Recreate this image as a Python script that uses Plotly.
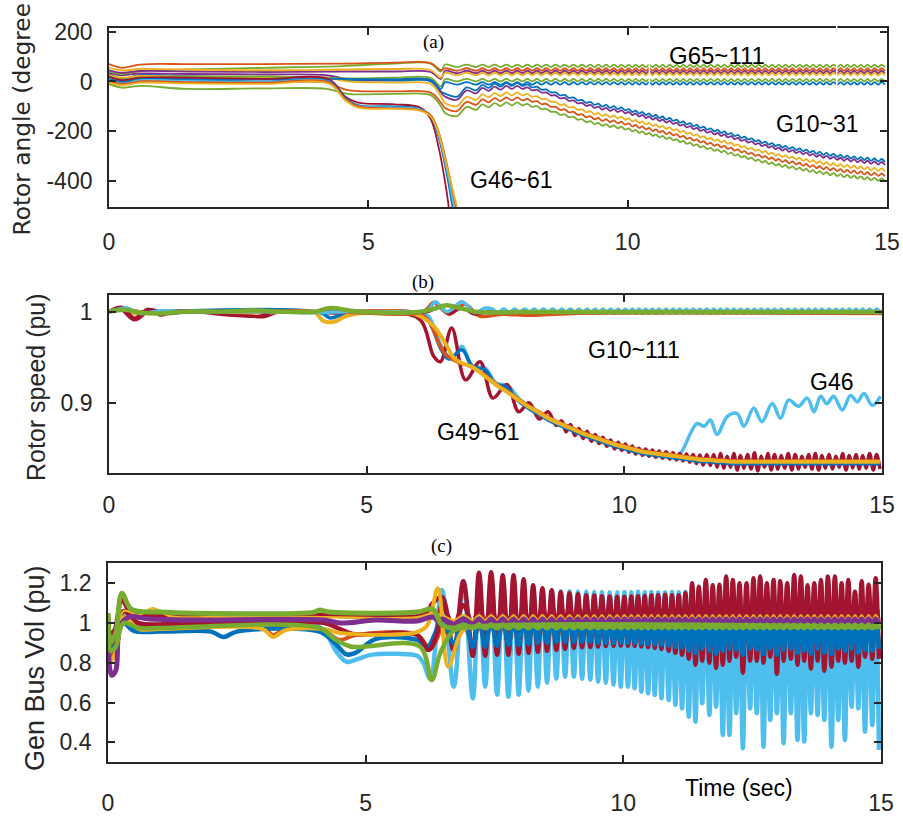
import plotly.graph_objects as go

# MATLAB default line colours
BLUE = "#0072BD"
ORANGE = "#D95319"
YELLOW = "#EDB120"
PURPLE = "#7E2F8E"
GREEN = "#77AC30"
CYAN = "#4DBEEE"
RED = "#A2142F"
AXIS_GREY = "#262626"

TIME_TICKS = [0, 5, 10, 15]
TIME_TICK_LABELS = ["0", "5", "10", "15"]

# Trough instants (s) of the fast swing that follows the second event;
# each cycle's peak lies halfway between consecutive troughs.
SWING_T0 = 6.25
TROUGH_T = [6.71, 7.08, 7.32, 7.55, 7.77, 7.97, 8.16, 8.34, 8.52, 8.70,
            8.87, 9.04, 9.20, 9.36, 9.51, 9.66, 9.81, 9.95, 10.09, 10.22,
            10.35, 10.48, 10.61, 10.74, 10.88, 11.01, 11.14, 11.27, 11.40, 11.53,
            11.67, 11.80, 11.93, 12.06, 12.19, 12.32, 12.46, 12.59, 12.72, 12.85,
            12.98, 13.11, 13.25, 13.38, 13.51, 13.64, 13.77, 13.90, 14.04, 14.17,
            14.30, 14.43, 14.56, 14.69, 14.83, 14.96]
PEAK_T = [(a + b) / 2 for a, b in zip([SWING_T0] + TROUGH_T[:-1], TROUGH_T)]

# ---------------- (a) rotor angle, degrees ----------------
ANGLE_TICKS = [-400, -200, 0, 200]

G65_KNOT_T = [0, 0.25, 0.6, 1.5, 3.0, 4.5, 5.5, 6.2, 6.4]
G65_COLORS = [GREEN, ORANGE, PURPLE, YELLOW, GREEN, BLUE]
G65_PRE = [
    [40, 30, 42, 48, 55, 62, 72, 72, 40],
    [70, 55, 68, 70, 70, 72, 76, 74, 45],
    [45, 35, 42, 40, 38, 40, 40, 38, 10],
    [55, 45, 50, 48, 45, 48, 50, 46, 15],
    [20, 8, 15, 18, 20, 12, 15, 14, -20],
    [10, 0, 12, 10, 8, 10, 8, 6, -30],
]
G65_LEVEL = [63, 48, 38, 30, 5, -8]
G65_SWING = 5

G1031_KNOT_T = [0, 0.25, 0.6, 1.5, 3.0, 4.2, 4.6, 5.5, 6.2, 6.4]
G1031_COLORS = [BLUE, PURPLE, YELLOW, ORANGE, GREEN]
G1031_PRE = [
    [30, 12, 25, 22, 15, 15, 5, 3, 0, -40],
    [35, 25, 32, 30, 28, 25, 10, 8, 5, -45],
    [25, 15, 22, 20, 18, 15, 0, -5, -10, -60],
    [5, -10, 0, -5, -5, -5, -35, -40, -45, -85],
    [-10, -25, -18, -30, -28, -30, -50, -50, -55, -100],
]
G1031_CENTRE = [-55, -30, -20, -15, -12, -12, -18, -27, -38, -50,
                -60, -70, -80, -88, -95, -100, -105, -110, -117, -123,
                -129, -135, -141, -147, -153, -160, -167, -174, -181, -188,
                -195, -201, -207, -214, -221, -228, -235, -242, -248, -254,
                -260, -265, -270, -275, -280, -285, -289, -293, -297, -301,
                -304, -307, -310, -313, -316, -318]
G1031_OFFSET = [0, -12, -38, -58, -78]
G1031_SWING = 6

G4661_KNOT_T = [0, 0.25, 0.6, 1.5, 3.0, 4.25, 4.55, 4.8, 5.5, 6.0, 6.2, 6.35, 6.5]
G4661_END_T = [6.57, 6.65, 6.68, 6.72, 6.75]
G4661_COLORS = [RED, BLUE, CYAN, ORANGE, YELLOW]
G4661_V = [
    [20, 5, 15, 15, 10, 8, -60, -85, -92, -105, -150, -260, -430, -540],
    [10, -5, 8, 5, 0, 0, -65, -95, -100, -110, -140, -220, -360, -540],
    [5, -8, 5, 2, -2, -3, -70, -98, -104, -112, -135, -210, -340, -540],
    [0, -10, 0, -3, -5, -5, -70, -100, -108, -115, -135, -200, -320, -540],
    [-5, -15, -5, -8, -10, -10, -75, -105, -110, -118, -140, -205, -330, -540],
]

# ---------------- (b) rotor speed, pu ----------------
SPEED_TICKS = [0.9, 1]
SPEED_TICK_LABELS = ["0.9", "1"]

# common slide of the G49~61 group, sampled at TROUGH_T
DECAY_CENTRE = [0.948, 0.938, 0.928, 0.918, 0.910, 0.902, 0.895, 0.889, 0.883, 0.878,
                0.874, 0.870, 0.866, 0.863, 0.860, 0.857, 0.854, 0.852, 0.850, 0.848,
                0.846, 0.845, 0.844, 0.843, 0.842, 0.841, 0.840, 0.839, 0.838, 0.837,
                0.837, 0.836, 0.836, 0.835, 0.835, 0.835, 0.835, 0.835, 0.835, 0.835,
                0.835, 0.835, 0.835, 0.835, 0.835, 0.835, 0.835, 0.835, 0.835, 0.835,
                0.835, 0.835, 0.835, 0.835, 0.835, 0.835]

YEL_B_T = [0, 0.2, 0.5, 1, 3, 4.0, 4.15, 4.35, 4.6, 5.0, 6.0, 6.3, 6.56]
YEL_B_V = [1.0, 1.004, 0.998, 1.0, 0.999, 0.999, 0.99, 0.9885, 0.995, 0.999, 0.996, 0.984, 0.962]

BLUE_B_T = [0, 0.3, 0.6, 1.0, 4.1, 4.3, 4.6, 6.0, 6.2, 6.45, 6.6, 6.85, 7.05, 7.3, 7.5, 7.7, 7.9]
BLUE_B_V = [1.0, 1.003, 0.998, 1.0, 0.999, 0.993, 0.998, 0.998, 0.99, 0.958, 0.948, 0.958,
            0.94, 0.936, 0.92, 0.918, 0.904]

ORA_B_T = [0, 0.3, 0.7, 1.5, 4.2, 6.0, 6.2, 6.5, 6.75, 7.0, 7.3]
ORA_B_V = [1.0, 1.002, 0.999, 1.0, 1.0, 0.998, 0.99, 0.955, 0.945, 0.94, 0.93]

RED_B_T = [0, 0.2, 0.5, 0.8, 1.1, 1.5, 2.2, 3.0, 3.3, 4.2, 4.6, 5.5, 6.04, 6.3, 6.43,
           6.65, 6.92, 7.2, 7.45, 7.72, 7.95, 8.15, 8.35, 8.52, 8.68]
RED_B_V = [1.0, 1.004, 0.991, 1.002, 0.998, 1.0, 1.0, 0.9945, 1.0, 0.999, 0.998, 0.999,
           0.991, 0.951, 0.945, 0.982, 0.925, 0.945, 0.905, 0.92, 0.89, 0.9, 0.882,
           0.89, 0.875]
RED_B_SWING = [0.006, 0.006, 0.0055, 0.0055, 0.005, 0.005, 0.005, 0.0045, 0.0045, 0.0045,
               0.004, 0.004, 0.004, 0.004, 0.004, 0.004, 0.004, 0.0045, 0.005, 0.0055,
               0.006, 0.007, 0.008, 0.006, 0.009, 0.007, 0.008, 0.010, 0.006, 0.009,
               0.008, 0.007, 0.009, 0.008, 0.006, 0.008, 0.009, 0.007, 0.008, 0.006,
               0.009, 0.007, 0.008, 0.007, 0.009, 0.008]

G46_T = [0, 0.35, 0.6, 1.0, 3.0, 4.2, 6.0, 6.2, 6.45, 6.65, 6.85, 7.05, 7.3, 7.5, 7.75,
         8.0, 8.5, 9.0, 9.5, 10.0, 10.5, 11.0, 11.1, 11.41, 11.55, 11.67, 11.80, 12.0,
         12.19, 12.32, 12.51, 12.67, 12.87, 13.03, 13.19, 13.38, 13.55, 13.68, 13.81,
         13.93, 14.06, 14.23, 14.39, 14.52, 14.65, 14.81, 14.97]
G46_V = [1.0, 1.003, 0.998, 1.0, 1.0, 0.999, 0.999, 0.995, 0.962, 0.948, 0.962, 0.94,
         0.938, 0.922, 0.918, 0.902, 0.884, 0.87, 0.861, 0.852, 0.846, 0.841, 0.845,
         0.877, 0.874, 0.881, 0.865, 0.885, 0.888, 0.874, 0.894, 0.879, 0.899, 0.883,
         0.903, 0.896, 0.905, 0.890, 0.907, 0.899, 0.907, 0.892, 0.908, 0.901, 0.910,
         0.897, 0.907]

CYAN_TOP_T = [0, 0.35, 0.6, 1.0, 1.5, 3, 4.2, 4.5, 5, 6.0, 6.2, 6.33, 6.56, 6.85, 7.1, 7.3]
CYAN_TOP_V = [1.0, 1.004, 0.998, 1.001, 1.0, 1.0, 0.999, 1.0, 1.0, 1.0, 1.002, 1.011,
              1.0, 1.011, 0.999, 1.004]
RED_TOP_T = [0, 0.25, 0.5, 0.75, 1.0, 1.3, 1.7, 2.9, 3.2, 4.2, 4.5, 6.2, 6.4, 6.6, 6.85, 7.1]
RED_TOP_V = [1.0, 1.005, 0.993, 1.003, 0.996, 1.001, 0.9995, 0.995, 1.0, 1.0, 1.001, 1.0,
             1.006, 0.998, 1.004, 0.997]
ORA_TOP_T = [0, 0.3, 0.7, 1.5, 4.2, 6.1, 6.3, 6.6, 6.9, 7.2, 7.6, 8.2, 9.0, 15]
ORA_TOP_V = [1.0, 1.002, 0.999, 1.0, 1.0, 1.0, 1.01, 0.997, 1.008, 0.995, 0.997, 0.996,
             0.998, 0.998]
GRN_B_T = [0, 0.3, 0.6, 1.0, 1.5, 2.2, 2.8, 3.3, 4.0, 4.3, 4.7, 5.2, 6.0, 6.3, 6.55,
           6.8, 7.1, 7.4, 8.0, 15]
GRN_B_V = [1.0, 1.002, 0.999, 0.998, 1.0, 1.0, 1.0015, 1.0, 1.0, 1.004, 1.001, 0.999,
           0.9995, 1.003, 1.007, 1.004, 1.0, 0.999, 0.9995, 0.9995]

# ---------------- (c) generator bus voltage, pu ----------------
VOLT_TICKS = [0.4, 0.6, 0.8, 1, 1.2]
VOLT_TICK_LABELS = ["0.4", "0.6", "0.8", "1", "1.2"]

CYAN_C_T = [0, 0.04, 0.12, 0.3, 0.55, 1.0, 2.0, 3.0, 4.0, 4.2, 4.45, 4.63, 4.85, 5.1,
            5.6, 6.0, 6.12, 6.25]
CYAN_C_V = [1.0, 0.93, 0.915, 1.05, 1.0, 0.99, 0.99, 0.99, 0.99, 0.96, 0.85, 0.805,
            0.82, 0.84, 0.845, 0.835, 0.8, 0.72]
CYAN_C_HI = [1.166, 1.21, 1.22, 1.215, 1.205, 1.195, 1.185, 1.175, 1.17, 1.165,
             1.16, 1.16, 1.158, 1.157, 1.156, 1.156, 1.155, 1.155, 1.156, 1.155,
             1.157, 1.155, 1.156, 1.154, 1.155, 1.156, 1.155, 1.157, 1.155, 1.154,
             1.156, 1.155, 1.155, 1.157, 1.154, 1.156, 1.155, 1.155, 1.156, 1.154,
             1.155, 1.157, 1.155, 1.156, 1.154, 1.155, 1.156, 1.155, 1.157, 1.155,
             1.154, 1.156, 1.155, 1.155, 1.156, 1.155]
CYAN_C_LO = [0.68, 0.62, 0.68, 0.64, 0.63, 0.64, 0.66, 0.68, 0.70, 0.72,
             0.73, 0.73, 0.72, 0.715, 0.705, 0.70, 0.69, 0.68, 0.68, 0.672,
             0.655, 0.647, 0.638, 0.622, 0.613, 0.588, 0.571, 0.529, 0.504, 0.596,
             0.538, 0.579, 0.437, 0.437, 0.546, 0.37, 0.571, 0.546, 0.378, 0.512,
             0.546, 0.395, 0.546, 0.412, 0.404, 0.546, 0.538, 0.512, 0.378, 0.512,
             0.412, 0.579, 0.571, 0.454, 0.487, 0.362]

RED_C_T = [0, 0.04, 0.12, 0.27, 0.45, 0.8, 1.5, 3, 4.2, 4.5, 5.5, 6.0, 6.2, 6.3]
RED_C_V = [1.04, 0.95, 0.96, 1.116, 1.05, 1.04, 1.04, 1.04, 1.04, 1.035, 1.035, 1.035,
           1.06, 1.1]
RED_C_HI = [1.13, 1.21, 1.253, 1.256, 1.24, 1.24, 1.22, 1.19, 1.175, 1.165,
            1.155, 1.15, 1.145, 1.14, 1.138, 1.135, 1.133, 1.132, 1.132, 1.133,
            1.135, 1.136, 1.138, 1.14, 1.142, 1.14, 1.14, 1.15, 1.2, 1.183,
            1.217, 1.19, 1.192, 1.234, 1.217, 1.2, 1.2, 1.225, 1.234, 1.2,
            1.217, 1.21, 1.2, 1.242, 1.234, 1.19, 1.2, 1.217, 1.234, 1.234,
            1.2, 1.217, 1.158, 1.21, 1.192, 1.225]
RED_C_LO = [0.86, 0.835, 0.835, 0.84, 0.84, 0.845, 0.85, 0.855, 0.86, 0.865,
            0.87, 0.875, 0.878, 0.88, 0.882, 0.884, 0.885, 0.886, 0.886, 0.885,
            0.883, 0.88, 0.875, 0.87, 0.86, 0.85, 0.84, 0.82, 0.79, 0.81,
            0.8, 0.774, 0.79, 0.81, 0.83, 0.75, 0.81, 0.81, 0.8, 0.83,
            0.745, 0.81, 0.82, 0.79, 0.81, 0.77, 0.81, 0.76, 0.78, 0.81,
            0.8, 0.81, 0.78, 0.83, 0.82, 0.82]

RED2_C_T = [0, 0.05, 0.15, 0.3, 0.6, 1.5, 3.0, 4.2, 4.5, 4.75, 5.2, 6.0, 6.22, 6.4]
RED2_C_V = [1.02, 0.9, 0.92, 1.06, 1.0, 1.0, 1.0, 1.0, 0.97, 0.945, 0.945, 0.94, 0.864, 0.96]
RED2_C_HI, RED2_C_LO = 1.09, 0.99

BLUE_C_T = [0, 0.04, 0.12, 0.3, 0.5, 1.0, 2.0, 2.24, 2.5, 4.1, 4.4, 4.63, 4.8, 5.2, 6.0,
            6.2, 6.35]
BLUE_C_V = [1.0, 0.88, 0.9, 1.0, 0.96, 0.957, 0.957, 0.93, 0.957, 0.957, 0.9, 0.842,
            0.85, 0.92, 0.915, 0.88, 0.95]
BLUE_C_HI = 1.03
BLUE_C_LO = [0.9, 0.88, 0.88, 0.885, 0.89, 0.89, 0.895, 0.9, 0.9, 0.905,
             0.905, 0.905, 0.905, 0.905, 0.9, 0.9, 0.9, 0.9, 0.9, 0.898,
             0.896, 0.894, 0.892, 0.89, 0.885, 0.88, 0.875, 0.86, 0.85, 0.87,
             0.86, 0.845, 0.86, 0.87, 0.865, 0.84, 0.87, 0.865, 0.845, 0.87,
             0.84, 0.865, 0.87, 0.85, 0.86, 0.845, 0.87, 0.85, 0.845, 0.87,
             0.86, 0.87, 0.85, 0.865, 0.86, 0.87]

ORA_C_T = [0, 0.05, 0.15, 0.3, 0.6, 1.0, 3.0, 3.2, 3.45, 4.1, 4.5, 4.8, 6.0, 6.25, 6.4]
ORA_C_V = [1.0, 0.84, 0.86, 1.03, 0.985, 0.98, 0.98, 0.94, 0.975, 0.975, 0.915, 0.94,
           0.94, 0.87, 0.93]
ORA_C_HI, ORA_C_LO = 1.0, 0.89

YEL2_C_T = [0, 0.05, 0.15, 0.3, 0.6, 1.0, 3.0, 3.2, 3.45, 4.2, 4.5, 6.0, 6.2, 6.4, 6.6,
            6.85, 7.1, 7.5, 15]
YEL2_C_V = [1.0, 0.81, 0.85, 1.03, 0.97, 0.97, 0.97, 0.93, 0.965, 0.97, 0.95, 0.955,
            0.99, 1.175, 0.78, 0.95, 1.0, 1.0, 1.0]

YEL_C_T = [0, 0.04, 0.12, 0.3, 0.6, 0.87, 1.2, 2.5, 4.2, 6.0, 6.3]
YEL_C_V = [1.04, 0.82, 0.83, 1.06, 1.04, 1.075, 1.035, 1.035, 1.03, 1.03, 1.05]
YEL_C_HI, YEL_C_LO = 1.04, 1.015

PUR_C_T = [0, 0.07, 0.15, 0.23, 0.4, 0.8, 1.5, 4.2, 4.5, 5.2, 6.0, 6.3, 6.45]
PUR_C_V = [1.015, 0.738, 0.76, 0.98, 1.03, 1.02, 1.015, 1.015, 1.0, 1.015, 1.01, 1.03, 1.0]
PUR_C_HI, PUR_C_LO = 1.02, 0.995

GRN2_C_T = [0, 0.05, 0.15, 0.3, 0.6, 1.0, 4.1, 4.4, 4.7, 6.05, 6.28, 6.45, 6.7, 7.0, 15]
GRN2_C_V = [0.985, 0.86, 0.88, 1.0, 0.975, 0.975, 0.975, 0.92, 0.882, 0.882, 0.713,
            0.85, 0.96, 0.98, 0.98]

GRN_C_T = [0, 0.05, 0.15, 0.27, 0.45, 1.0, 4.0, 4.1, 4.3, 6.0, 6.3]
GRN_C_V = [1.05, 0.9, 0.95, 1.15, 1.07, 1.055, 1.055, 1.065, 1.055, 1.055, 1.07]
GRN_C_HI, GRN_C_LO = 0.99, 0.975


def swing(pre_t, pre_v, hi, lo, start=0):
    """Append peak/trough pairs of the shared swing to a pre-event path."""
    ts, vs = list(pre_t), list(pre_v)
    for k, i in enumerate(range(start, len(TROUGH_T))):
        h = hi[k] if isinstance(hi, list) else hi
        l = lo[k] if isinstance(lo, list) else lo
        ts += [PEAK_T[i], TROUGH_T[i]]
        vs += [h, l]
    return ts, vs


fig = go.Figure()


def add_line(t, v, color, width, ax):
    fig.add_trace(go.Scatter(
        x=t, y=v, mode="lines",
        line=dict(color=color, width=width, shape="spline", smoothing=1.0),
        xaxis="x" + ax, yaxis="y" + ax, hoverinfo="skip", showlegend=False))


# (a)
for col, pre, off in zip(G1031_COLORS, G1031_PRE, G1031_OFFSET):
    hi = [c + off + G1031_SWING for c in G1031_CENTRE]
    lo = [c + off - G1031_SWING for c in G1031_CENTRE]
    t, v = swing(G1031_KNOT_T, pre, hi, lo)
    add_line(t, v, col, 1.8, "")
for col, pre, lev in zip(G65_COLORS, G65_PRE, G65_LEVEL):
    t, v = swing(G65_KNOT_T, pre, lev + G65_SWING, lev - G65_SWING)
    add_line(t, v, col, 1.8, "")
for col, vals, t_end in zip(G4661_COLORS, G4661_V, G4661_END_T):
    add_line(G4661_KNOT_T + [t_end], vals, col, 1.8, "")

# (b)
add_line(G46_T, G46_V, CYAN, 3.5, "2")
t, v = swing(RED_B_T, RED_B_V,
             [c + s for c, s in zip(DECAY_CENTRE[10:], RED_B_SWING)],
             [c - s for c, s in zip(DECAY_CENTRE[10:], RED_B_SWING)], start=10)
add_line(t, v, RED, 3.5, "2")
add_line(BLUE_B_T + TROUGH_T[6:], BLUE_B_V + [c - 0.002 for c in DECAY_CENTRE[6:]], BLUE, 3.5, "2")
add_line(ORA_B_T + TROUGH_T[3:], ORA_B_V + [c + 0.001 for c in DECAY_CENTRE[3:]], ORANGE, 3.5, "2")
add_line(YEL_B_T + TROUGH_T, YEL_B_V + DECAY_CENTRE, YELLOW, 4, "2")
add_line(ORA_TOP_T, ORA_TOP_V, ORANGE, 3.5, "2")
t, v = swing(RED_TOP_T, RED_TOP_V, 1.001, 0.9985, start=3)
add_line(t, v, RED, 3, "2")
t, v = swing(CYAN_TOP_T, CYAN_TOP_V, 1.003, 0.999, start=3)
add_line(t, v, CYAN, 3.5, "2")
add_line(GRN_B_T, GRN_B_V, GREEN, 4.5, "2")

# (c)
add_line(*swing(CYAN_C_T, CYAN_C_V, CYAN_C_HI, CYAN_C_LO), CYAN, 4.5, "3")
add_line(*swing(ORA_C_T, ORA_C_V, ORA_C_HI, ORA_C_LO), ORANGE, 4, "3")
add_line(*swing(RED_C_T, RED_C_V, RED_C_HI, RED_C_LO), RED, 4.5, "3")
add_line(*swing(BLUE_C_T, BLUE_C_V, BLUE_C_HI, BLUE_C_LO), BLUE, 4.5, "3")
add_line(*swing(RED2_C_T, RED2_C_V, RED2_C_HI, RED2_C_LO), RED, 4.5, "3")
add_line(YEL2_C_T, YEL2_C_V, YELLOW, 4, "3")
add_line(*swing(YEL_C_T, YEL_C_V, YEL_C_HI, YEL_C_LO), YELLOW, 2.2, "3")
add_line(*swing(PUR_C_T, PUR_C_V, PUR_C_HI, PUR_C_LO), PURPLE, 5, "3")
add_line(GRN2_C_T, GRN2_C_V, GREEN, 4.5, "3")
add_line(*swing(GRN_C_T, GRN_C_V, GRN_C_HI, GRN_C_LO), GREEN, 5, "3")

# Page geometry in window pixels, converted to paper fractions.
W, H = 903, 818


def px(x):
    return x / W


def py(y):
    return 1 - y / H


SANS = "Liberation Sans, Arial, sans-serif"
SERIF = "Liberation Serif, Times New Roman, serif"
TICK_FONT = dict(family=SANS, size=23, color=AXIS_GREY)


def frame(**kw):
    d = dict(showline=True, linecolor=AXIS_GREY, linewidth=1.8, mirror="ticks",
             ticks="inside", ticklen=7, tickwidth=1.8, tickcolor=AXIS_GREY,
             showgrid=False, zeroline=False, tickfont=TICK_FONT, fixedrange=True,
             automargin=False)
    d.update(kw)
    return d


def xframe(x0, x1, anchor, standoff):
    return frame(domain=[px(x0), px(x1)], anchor=anchor, range=[0, 15],
                 tickvals=TIME_TICKS, ticktext=TIME_TICK_LABELS,
                 ticklabelstandoff=standoff)


def yframe(top, bottom, anchor, rng, vals, text):
    return frame(domain=[py(bottom), py(top)], anchor=anchor, range=rng,
                 tickvals=vals, ticktext=text, ticklabelstandoff=10)


def note(text, x, y, size, family=SANS, angle=0, yanchor="middle", bg=None,
         color="black"):
    a = dict(text=text, x=px(x), y=py(y), xref="paper", yref="paper",
             showarrow=False, xanchor="center", yanchor=yanchor, textangle=angle,
             font=dict(family=family, size=size, color=color))
    if bg:
        a.update(bgcolor=bg, borderpad=1)
    return a


fig.update_layout(
    width=W, height=H,
    margin=dict(l=0, r=0, t=0, b=0, pad=0, autoexpand=False),
    paper_bgcolor="white", plot_bgcolor="white", showlegend=False,
    xaxis=xframe(109, 887, "y", 13),
    yaxis=yframe(28, 207, "x", [-505, 215], ANGLE_TICKS, [str(v) for v in ANGLE_TICKS]),
    xaxis2=xframe(109, 882, "y2", 10),
    yaxis2=yframe(295, 473, "x2", [0.8227, 1.0183], SPEED_TICKS, SPEED_TICK_LABELS),
    xaxis3=xframe(108, 881, "y3", 19),
    yaxis3=yframe(563, 762, "x3", [0.301, 1.302], VOLT_TICKS, VOLT_TICK_LABELS),
    annotations=[
        note("(a)", 433, 41.7, 19, SERIF),
        note("(b)", 423, 281.7, 19, SERIF),
        note("(c)", 441, 545.5, 19, SERIF),
        note("G65~111", 716.7, 55.8, 24),
        note("G10~31", 817.5, 124, 23, bg="white"),
        note("G46~61", 511, 180, 23),
        note("G10~111", 634, 350, 23),
        note("G46", 831.7, 382.5, 23),
        note("G49~61", 479, 431.7, 23),
        note("Time (sec)", 739, 787.5, 23),
        note("Rotor angle (degree", 21, 238, 23.3, "DejaVu Sans, sans-serif",
             angle=-90, yanchor="bottom", color=AXIS_GREY),
        note("Rotor speed (pu)", 36, 387, 25, angle=-90, color=AXIS_GREY),
        note("Gen Bus Vol (pu)", 35, 668, 27, angle=-90, color=AXIS_GREY),
    ],
    shapes=[
        dict(type="line", xref="x", yref="paper", x0=10.42, x1=10.42,
             y0=py(88), y1=py(25), line=dict(color="white", width=1.5),
             layer="above"),
        dict(type="line", xref="x", yref="paper", x0=14.03, x1=14.03,
             y0=py(88), y1=py(25), line=dict(color="white", width=1.5),
             layer="above"),
    ],
)

fig.write_html("out.html", config={"responsive": False})
